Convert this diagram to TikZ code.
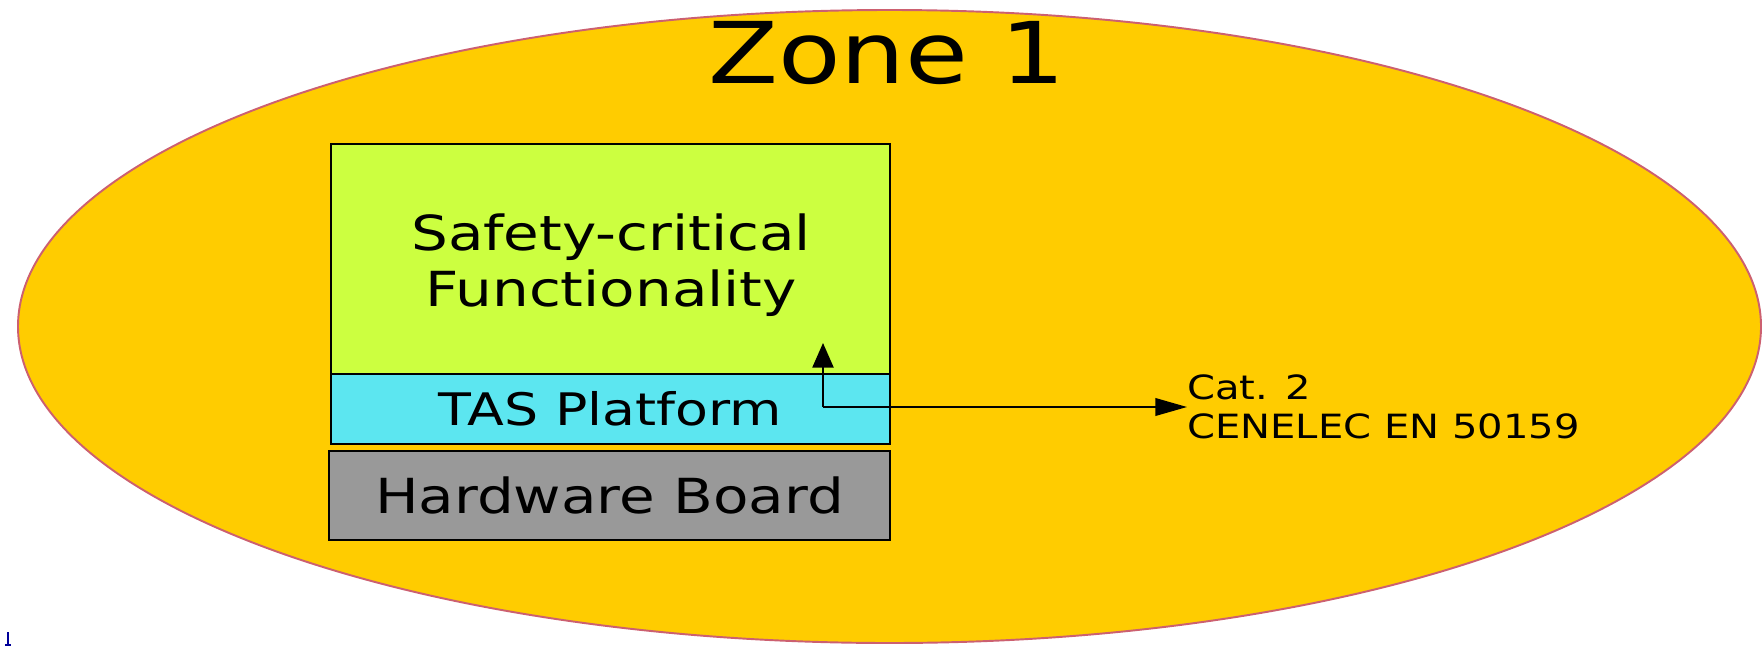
\documentclass[tikz,border=0pt]{standalone}
\usepackage{fontspec}
\setmainfont{DejaVu Sans}[FakeStretch=1.2]
\usetikzlibrary{arrows.meta}
\definecolor{zonefill}{RGB}{255,204,0}
\definecolor{zoneline}{RGB}{204,96,112}
\definecolor{appfill}{RGB}{204,255,64}
\definecolor{tasfill}{RGB}{92,230,240}
\definecolor{hwfill}{RGB}{153,153,153}

\begin{document}
\begin{tikzpicture}[x=0.2mm,y=0.2mm]
            \tikzset{layer/.style={draw=black, line width=1.1pt, inner sep=0pt, align=center, font=\fontsize{27.5}{32}\selectfont}}
            \useasboundingbox (0,0) rectangle (1762,-646);
            \draw [zoneline, fill=zonefill, line width=1.1pt] (889.5,-326.5) ellipse (871.5 and 316.5);
            \node (zone) at (887,-53) {\fontsize{48.5}{50}\selectfont Zone 1};
            \node [layer, fill=appfill, minimum width=111.8mm, minimum height=46mm] (app) at (610.5,-259) {};
            \node [layer, draw=none] (applabel) at (611,-265) {Safety-critical\\Functionality};
            \node [layer, fill=tasfill, minimum width=111.8mm, minimum height=14mm, font=\fontsize{25.5}{28}\selectfont] (tas) at (610.5,-409) {TAS Platform};
            \node [layer, fill=hwfill, minimum width=112.2mm, minimum height=17.8mm] (hw) at (609.5,-495.5) {Hardware Board};
            \node [inner sep=0pt, anchor=west, align=left, font=\fontsize{19}{22.2}\selectfont] (crit) at (1187,-407) {Cat. 2\\CENELEC EN 50159};
            \coordinate (bend) at (823,-407);
            \coordinate (tip) at (823,-343);
            \draw [line width=1.1pt, -{Triangle[length=14pt,width=12pt]}] (bend) -- (tip);
            \draw [line width=1.1pt, -{Triangle[length=18pt,width=10pt]}] (bend) -- (crit.west);
            \draw [blue!60!black, line width=0.7pt] (8,-632) -- (8,-646);
            \draw [blue!60!black, line width=0.7pt] (5,-645) -- (11,-645);
        \end{tikzpicture}
\end{document}
